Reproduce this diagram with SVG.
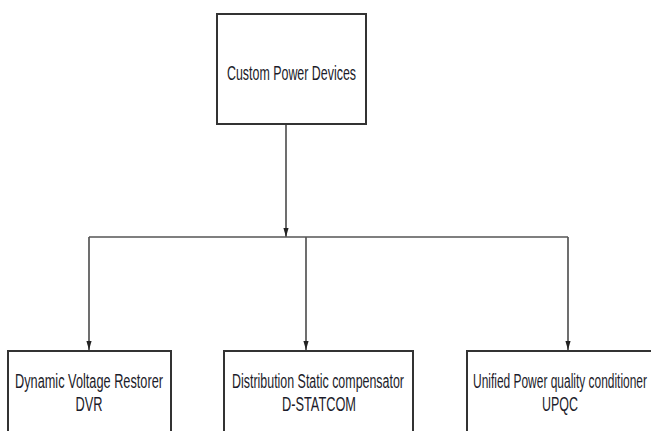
<svg xmlns="http://www.w3.org/2000/svg" width="651" height="431" viewBox="0 0 651 431">
<style>
.box{fill:#fff;stroke:#333;stroke-width:2}
.lbl{font-family:"Liberation Sans",Arial,sans-serif;font-size:20px;fill:#1c1c2a;text-anchor:middle}
.conn{fill:none;stroke:#555;stroke-width:1.7}
</style>
<defs>
<marker id="arr" markerWidth="9" markerHeight="15" refX="14" refY="4" orient="auto" markerUnits="userSpaceOnUse" viewBox="0 0 14 8">
<path d="M0,0 L14,4 L0,8 Z" fill="#222"/>
</marker>
</defs>
<rect width="651" height="431" fill="#fff"/>
<g id="connectors">
<path class="conn" d="M286,124 V237" marker-end="url(#arr)"/>
<path class="conn" d="M89,237 H568"/>
<path class="conn" d="M89,237 V350" marker-end="url(#arr)"/>
<path class="conn" d="M306,237 V350" marker-end="url(#arr)"/>
<path class="conn" d="M568,237 V350" marker-end="url(#arr)"/>
</g>
<g id="custom-power-devices">
<rect class="box" x="217" y="14" width="149" height="110"/>
<text class="lbl" x="291.5" y="80" textLength="129" lengthAdjust="spacingAndGlyphs">Custom Power Devices</text>
</g>
<g id="dvr">
<rect class="box" x="8" y="351" width="163" height="90"/>
<text class="lbl" x="89" y="388" textLength="148" lengthAdjust="spacingAndGlyphs">Dynamic Voltage Restorer</text>
<text class="lbl" x="89" y="411" textLength="27" lengthAdjust="spacingAndGlyphs">DVR</text>
</g>
<g id="dstatcom">
<rect class="box" x="224" y="351" width="189" height="90"/>
<text class="lbl" x="318" y="388" textLength="172" lengthAdjust="spacingAndGlyphs">Distribution Static compensator</text>
<text class="lbl" x="319" y="411" textLength="74" lengthAdjust="spacingAndGlyphs">D-STATCOM</text>
</g>
<g id="upqc">
<rect class="box" x="467" y="351" width="200" height="90"/>
<text class="lbl" x="560" y="388" textLength="174" lengthAdjust="spacingAndGlyphs">Unified Power quality conditioner</text>
<text class="lbl" x="560" y="411" textLength="36" lengthAdjust="spacingAndGlyphs">UPQC</text>
</g>
</svg>
